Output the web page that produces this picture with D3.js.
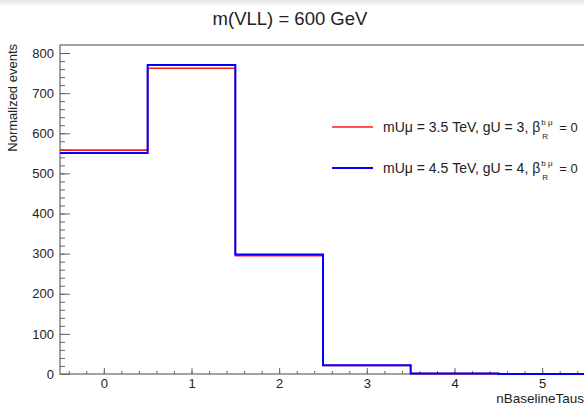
<!DOCTYPE html>
<html>
<head>
<meta charset="utf-8">
<script src="https://cdn.jsdelivr.net/npm/d3@7"></script>
<style>
  body { margin: 0; background: #fff; }
  text { font-family: "Liberation Sans", Arial, sans-serif; fill: #222; }
</style>
</head>
<body>
<div id="chart"></div>
<script>
// canvas size
var w = 584, h = 409;

// data: bin centres of nBaselineTaus and the two normalized histograms
var bins = [0, 1, 2, 3, 4, 5];
var redValues = [558, 762, 295, 21, 1, 0];
var blueValues = [551, 770, 298, 22, 1, 0];
var legendLabels = ["mU\u03bc = 3.5 TeV, gU = 3, \u03b2", "mU\u03bc = 4.5 TeV, gU = 4, \u03b2"];
var yTicks = [0, 100, 200, 300, 400, 500, 600, 700, 800];
var xTicks = [0, 1, 2, 3, 4, 5];

var margin = {top: 45, left: 60, bottom: 35};

var xScale = d3.scaleLinear().domain([-0.5, 5.5]).range([margin.left, 586]);
var yScale = d3.scaleLinear().domain([0, 820]).range([h - margin.bottom, margin.top]);

var svg = d3.select("#chart").append("svg")
    .attr("width", w)
    .attr("height", h);

// faint shade on the top edge
var grad = svg.append("defs").append("linearGradient")
    .attr("id", "shade").attr("x1", 0).attr("x2", 0).attr("y1", 0).attr("y2", 1);
grad.append("stop").attr("offset", "0%").attr("stop-color", "#e6e6e6");
grad.append("stop").attr("offset", "100%").attr("stop-color", "#fff");
svg.append("rect").attr("x", 0).attr("y", 0).attr("width", w).attr("height", 7)
    .attr("fill", "url(#shade)");

// frame
svg.append("rect")
    .attr("x", xScale(-0.5))
    .attr("y", yScale(820))
    .attr("width", xScale(5.5) - xScale(-0.5))
    .attr("height", yScale(0) - yScale(820))
    .attr("fill", "none")
    .attr("stroke", "#666")
    .attr("stroke-width", 1.2);

// minor ticks
var xMinor = d3.range(-0.4, 5.5, 0.2).map(function(d) { return Math.round(d * 10) / 10; });
var yMinor = d3.range(0, 820, 20);

var xAxisMinor = d3.axisBottom(xScale).tickValues(xMinor).tickSize(-3).tickFormat("");
var xAxis = d3.axisBottom(xScale).tickValues(xTicks).tickSize(-6).tickPadding(5).tickFormat(d3.format("d"));
var yAxisMinor = d3.axisLeft(yScale).tickValues(yMinor).tickSize(-5).tickFormat("");
var yAxis = d3.axisLeft(yScale).tickValues(yTicks).tickSize(-10).tickPadding(6).tickFormat(d3.format("d"));

function styleAxis(g) {
    g.select(".domain").remove();
    g.selectAll("line").attr("stroke", "#666");
    g.selectAll("text").style("font-size", "13px").attr("fill", "#222")
        .style("font-family", "Liberation Sans, Arial, sans-serif");
}

svg.append("g").attr("transform", "translate(0," + yScale(0) + ")").call(xAxisMinor).call(styleAxis);
svg.append("g").attr("transform", "translate(0," + yScale(0) + ")").call(xAxis).call(styleAxis);
svg.append("g").attr("transform", "translate(" + xScale(-0.5) + ",0)").call(yAxisMinor).call(styleAxis);
svg.append("g").attr("transform", "translate(" + xScale(-0.5) + ",0)").call(yAxis).call(styleAxis);

// histogram step lines
function stepPoints(values) {
    var pts = bins.map(function(b, i) { return [b - 0.5, values[i]]; });
    pts.push([bins[bins.length - 1] + 0.5, values[values.length - 1]]);
    return pts;
}
var line = d3.line()
    .x(function(d) { return xScale(d[0]); })
    .y(function(d) { return yScale(d[1]); })
    .curve(d3.curveStepAfter);

svg.append("path").datum(stepPoints(redValues))
    .attr("d", line).attr("fill", "none")
    .attr("stroke", "#ff1a1a").attr("stroke-width", 1.6);
svg.append("path").datum(stepPoints(blueValues))
    .attr("d", line).attr("fill", "none")
    .attr("stroke", "#0000ff").attr("stroke-width", 2);

// legend
var legendColors = ["#ff1a1a", "#0000ff"];
var legend = svg.selectAll("g.legend").data(legendLabels).enter().append("g")
    .attr("class", "legend")
    .attr("transform", function(d, i) { return "translate(332," + (127 + i * 41) + ")"; });
legend.append("line")
    .attr("x1", 0).attr("x2", 41).attr("y1", 0).attr("y2", 0)
    .attr("stroke", function(d, i) { return legendColors[i]; })
    .attr("stroke-width", function(d, i) { return i ? 2 : 1.6; });
legend.each(function(d) {
    var g = d3.select(this);
    var main = g.append("text").attr("x", 51).attr("y", 5).style("font-size", "14px").text(d);
    var x0 = 51 + main.node().getComputedTextLength() + 1;
    g.append("text").attr("x", x0).attr("y", -2).style("font-size", "8px").text("b \u03bc");
    g.append("text").attr("x", x0 + 1).attr("y", 12).style("font-size", "8px").text("R");
    g.append("text").attr("x", x0 + 18).attr("y", 5).style("font-size", "13px").text("= 0");
});

// title
svg.append("text")
    .attr("x", 290).attr("y", 25)
    .attr("text-anchor", "middle")
    .style("font-size", "18.5px")
    .text("m(VLL) = 600 GeV");

// axis titles
svg.append("text")
    .attr("x", 584).attr("y", 403)
    .attr("text-anchor", "end")
    .style("font-size", "13.5px")
    .text("nBaselineTaus");

svg.append("text")
    .attr("transform", "translate(17,44) rotate(-90)")
    .attr("text-anchor", "end")
    .style("font-size", "13px")
    .text("Normalized events");
</script>
</body>
</html>
